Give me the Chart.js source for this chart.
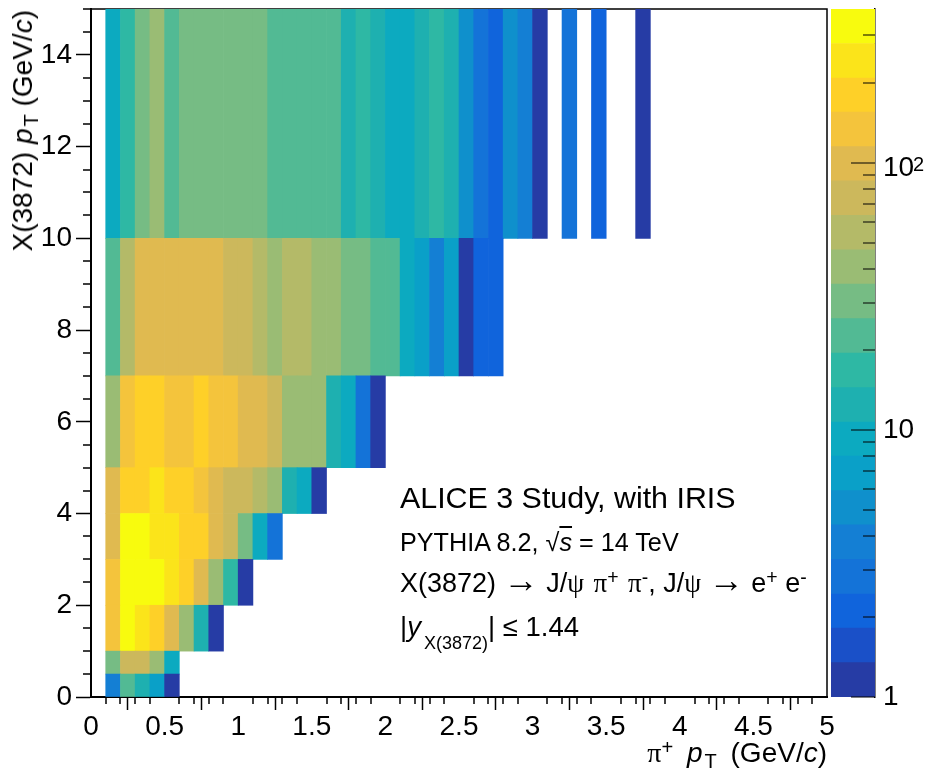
<!DOCTYPE html>
<html>
<head>
<meta charset="utf-8">
<title>X(3872) pT vs pion pT</title>
<script src="https://cdn.jsdelivr.net/npm/chart.js@4"></script>
<style>
  html, body { margin: 0; padding: 0; background: #fff; }
  #page { position: relative; width: 927px; height: 775px; overflow: hidden; font-family: "Liberation Sans", sans-serif; color: #000; }
  canvas { position: absolute; top: 0; }
  #main-chart { left: 0; }
  #scale-chart { left: 829px; }
  .txt { position: absolute; white-space: nowrap; line-height: 1; }
  .up { position: relative; top: -0.4em; font-size: 0.72em; }
  .dn { position: relative; top: 0.3em; font-size: 0.72em; }
  .sym { font-family: "Liberation Serif", serif; }
  .arr { font-family: "Liberation Serif", serif; font-size: 1.3em; line-height: 0; }
  .pi { margin-left: 2px; }
</style>
</head>
<body>
<div id="page">
  <canvas id="main-chart" width="927" height="775"></canvas>
  <canvas id="scale-chart" width="98" height="775"></canvas>

  <div class="txt" style="left:400px;top:482px;font-size:30.4px">ALICE 3 Study, with IRIS</div>
  <div class="txt" style="left:400px;top:530px;font-size:25.2px">PYTHIA 8.2, √<i style="text-decoration:overline">s</i> = 14 TeV</div>
  <div class="txt" style="left:400px;top:570px;font-size:27px">X(3872) <span class="arr">→</span> J/<span class="sym">ψ</span> <span class="sym pi">π</span><span class="up">+</span> <span class="sym pi">π</span><span class="up">-</span>, J/<span class="sym">ψ</span> <span class="arr">→</span> e<span class="up">+</span> e<span class="up">-</span></div>
  <div class="txt" style="left:400px;top:613px;font-size:27.5px">|<i>y</i><span class="dn" style="font-size:18px;margin-left:3px;top:13px">X(3872)</span>| ≤ 1.44</div>

  <div class="txt" style="right:100px;top:739px;font-size:28px;word-spacing:6px"><span class="sym">π</span><span class="up">+</span> <i>p</i><span class="dn" style="font-size:20px;margin-left:2px">T</span> (GeV/<i>c</i>)</div>
  <div class="txt" style="left:9px;top:10px;font-size:28px;transform-origin:0 0;transform:rotate(-90deg) translateX(-100%)">X(3872) <i>p</i><span class="dn" style="font-size:20px;margin-left:2px">T</span> (GeV/<i>c</i>)</div>
</div>

<script>
// bin centres along pi+ pT, 0.1 GeV/c wide
const ptCenters = [0.15, 0.25, 0.35, 0.45, 0.55, 0.65, 0.75, 0.85, 0.95, 1.05, 1.15, 1.25, 1.35,
  1.45, 1.55, 1.65, 1.75, 1.85, 1.95, 2.05, 2.15, 2.25, 2.35, 2.45, 2.55, 2.65, 2.75, 2.85,
  2.95, 3.05, 3.15, 3.25, 3.35, 3.45, 3.55, 3.65, 3.75];

// edges of the X(3872) pT rows
const rowEdges = [0, 0.5, 1, 2, 3, 4, 5, 7, 10, 15];

// counts per row
const row0 = [3.8, 22.5, 12.5, 6.9, 1.16];
const row1 = [30, 74, 74, 41, 9.3];
const row2 = [134, 325, 242, 180, 100, 41, 12.5, 1.16];
const row3 = [134, 325, 325, 325, 242, 180, 100, 41, 17, 1.16];
const row4 = [100, 325, 325, 242, 242, 180, 180, 100, 74, 30, 9.3, 2.8];
const row5 = [100, 180, 180, 242, 180, 180, 134, 100, 74, 74, 55, 41, 12.5, 9.3, 1.16];
const row6 = [41, 134, 180, 180, 134, 134, 180, 134, 134, 100, 100, 74, 41, 41, 41, 12.5, 9.3, 2.8, 1.16];
const row7 = [22.5, 55, 100, 100, 100, 100, 100, 100, 74, 74, 55, 41, 55, 55, 41, 41, 30, 30, 22.5, 22.5,
  9.3, 6.9, 3.8, 6.9, 1.16, 2.1, 2.1];
const row8 = [9.3, 17, 30, 41, 22.5, 30, 30, 30, 30, 30, 30, 22.5, 22.5, 22.5, 22.5, 22.5, 12.5, 17, 12.5,
  9.3, 9.3, 12.5, 17, 12.5, 5.1, 2.8, 2.1, 5.1, 3.8, 1.16, null, 2.8, null, 2.1, null, null, 1.16];
const rows = [row0, row1, row2, row3, row4, row5, row6, row7, row8];

// colour scale: 20 contours, bottom to top
const levelEdges = [1, 1.345, 1.81, 2.43, 3.28, 4.41, 5.93, 7.98, 10.7, 14.4, 19.4, 26.1, 35.2, 47.3,
  63.6, 85.6, 115, 155, 208, 280, 377];
const levelColors = ["#263ca5", "#1a50c8", "#1064dc", "#1473d8", "#147fd4", "#0f90cc", "#0aa0c8", "#0caac0",
  "#1eb0b0", "#2eb8a4", "#52ba94", "#76bc84", "#9abc74", "#b4ba68", "#ccb85c", "#e0ba50",
  "#f4c43c", "#fed028", "#fbe41a", "#f8fb0e"];

// axis ticks
const xTicks = [0, 0.5, 1, 1.5, 2, 2.5, 3, 3.5, 4, 4.5, 5];
const yTicks = [0, 2, 4, 6, 8, 10, 12, 14];
const scaleTicks = [1, 10, 100];
const scaleMinorTicks = [2, 3, 4, 5, 6, 7, 8, 9, 20, 30, 40, 50, 60, 70, 80, 90, 200, 300];

const FONT = { family: "'Liberation Sans', sans-serif", size: 28 };

function colorFor(value) {
  for (let i = 0; i < levelColors.length; i++) {
    if (value < levelEdges[i + 1]) return levelColors[i];
  }
  return levelColors[levelColors.length - 1];
}

// the tick labels stick out of the plot, keep them out of the layout
function noScalePadding(scale) {
  scale.paddingTop = 0;
  scale.paddingBottom = 0;
  scale.paddingLeft = 0;
  scale.paddingRight = 0;
}

// one dataset per row, floating bars from row edge to row edge
const rowDatasets = rows.map((values, r) => {
  const data = [];
  const colors = [];
  values.forEach((v, i) => {
    if (v === null) return;
    data.push({ x: ptCenters[i], y: [rowEdges[r], rowEdges[r + 1]] });
    colors.push(colorFor(v));
  });
  return {
    data,
    backgroundColor: colors,
    borderWidth: 0,
    grouped: false,
    barPercentage: 1,
    categoryPercentage: 1
  };
});

// frame and outward minor ticks for the main pad
const framePlugin = {
  id: "frame",
  beforeDatasetsDraw(chart) {
    const { ctx, chartArea: a } = chart;
    ctx.save();
    ctx.strokeStyle = "#000";
    ctx.lineWidth = 1.5;
    ctx.strokeRect(a.left, a.top, a.right - a.left, a.bottom - a.top);
    ctx.restore();
  },
  afterDraw(chart) {
    const { ctx, chartArea: a, scales } = chart;
    ctx.save();
    ctx.strokeStyle = "#000";
    ctx.lineWidth = 1.5;
    ctx.beginPath();
    for (let n = 0; n <= 50; n++) {
      if (n % 5 === 0) continue;
      const px = Math.round(scales.x.getPixelForValue(n / 10));
      ctx.moveTo(px, a.bottom);
      ctx.lineTo(px, a.bottom + 7);
    }
    for (let n = 0; n <= 30; n++) {
      if (n % 4 === 0) continue;
      const py = Math.round(scales.y.getPixelForValue(n / 2));
      ctx.moveTo(a.left, py);
      ctx.lineTo(a.left - 8, py);
    }
    ctx.stroke();
    ctx.restore();
  }
};

new Chart(document.getElementById("main-chart"), {
  type: "bar",
  data: { datasets: rowDatasets },
  plugins: [framePlugin],
  options: {
    responsive: false,
    animation: false,
    layout: { padding: { top: 9, right: 100, left: 0, bottom: 0 } },
    plugins: { legend: { display: false }, tooltip: { enabled: false } },
    scales: {
      x: {
        type: "linear",
        min: 0,
        max: 5,
        offset: false,
        afterBuildTicks: (scale) => { scale.ticks = xTicks.map((value) => ({ value })); },
        afterFit: (scale) => { scale.height = 78; noScalePadding(scale); },
        border: { color: "#000", width: 2 },
        grid: { drawOnChartArea: false, tickLength: 13, tickColor: "#000", tickWidth: 1.5 },
        ticks: { color: "#000", font: FONT, padding: 0, maxRotation: 0, autoSkip: false, callback: (v) => String(v) }
      },
      y: {
        min: 0,
        max: 15,
        afterBuildTicks: (scale) => { scale.ticks = yTicks.map((value) => ({ value })); },
        afterFit: (scale) => { scale.width = 91; noScalePadding(scale); },
        border: { color: "#000", width: 2 },
        grid: { drawOnChartArea: false, tickLength: 15, tickColor: "#000", tickWidth: 1.5 },
        ticks: { color: "#000", font: FONT, padding: 4, autoSkip: false, callback: (v) => String(v) }
      }
    }
  }
});

// colour bar, ticks point inward
const scaleTickPlugin = {
  id: "scaleTicks",
  afterDraw(chart) {
    const { ctx, chartArea: a, scales } = chart;
    ctx.save();
    ctx.strokeStyle = "#000";
    ctx.lineWidth = 1.2;
    ctx.beginPath();
    scaleTicks.forEach((v) => {
      const py = Math.round(scales.y.getPixelForValue(v));
      ctx.moveTo(a.right, py);
      ctx.lineTo(a.right - 24, py);
    });
    scaleMinorTicks.forEach((v) => {
      const py = Math.round(scales.y.getPixelForValue(v));
      ctx.moveTo(a.right, py);
      ctx.lineTo(a.right - 12, py);
    });
    ctx.stroke();
    // the 10^2 label sits lower than its tick, with a real exponent
    const py100 = scales.y.getPixelForValue(100);
    ctx.fillStyle = "#000";
    ctx.textAlign = "left";
    ctx.textBaseline = "alphabetic";
    ctx.font = "28px 'Liberation Sans', sans-serif";
    ctx.fillText("10", a.right + 8, py100 + 13);
    ctx.font = "20px 'Liberation Sans', sans-serif";
    ctx.fillText("2", a.right + 38, py100 + 8);
    ctx.restore();
  }
};

new Chart(document.getElementById("scale-chart"), {
  type: "bar",
  data: {
    labels: ["z"],
    datasets: levelColors.map((color, i) => ({
      data: [[levelEdges[i], levelEdges[i + 1]]],
      backgroundColor: color,
      borderWidth: 0,
      grouped: false,
      barPercentage: 1,
      categoryPercentage: 1
    }))
  },
  plugins: [scaleTickPlugin],
  options: {
    responsive: false,
    animation: false,
    layout: { padding: { top: 9, left: 2, right: 0, bottom: 78 } },
    plugins: { legend: { display: false }, tooltip: { enabled: false } },
    scales: {
      x: { display: false },
      y: {
        type: "logarithmic",
        position: "right",
        min: 1,
        max: 377,
        afterBuildTicks: (scale) => { scale.ticks = scaleTicks.map((value) => ({ value })); },
        afterFit: (scale) => { scale.width = 52; noScalePadding(scale); },
        border: { color: "#000", width: 1.5 },
        grid: { drawOnChartArea: false, drawTicks: false },
        ticks: { color: "#000", font: FONT, padding: 8, autoSkip: false, callback: (v) => (v === 100 ? "" : String(v)) }
      }
    }
  }
});
</script>
</body>
</html>
